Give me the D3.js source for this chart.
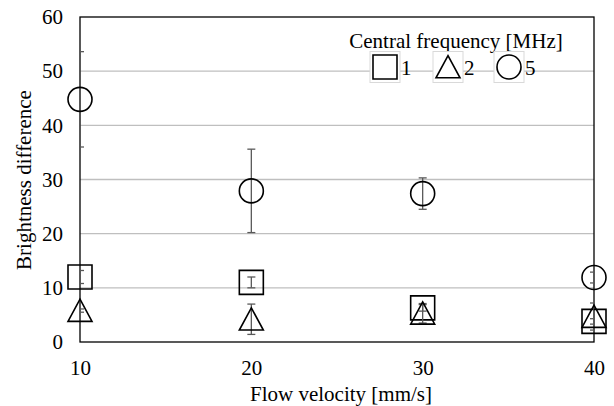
<!DOCTYPE html>
<html><head><meta charset="utf-8">
<script src="https://cdn.jsdelivr.net/npm/d3@7"></script>
<style>body{margin:0;background:#fff}svg{display:block}text{font-family:"Liberation Serif","Times New Roman",serif;fill:#000}</style>
</head><body>
<script>
const velocities = [10, 20, 30, 40];
const xTicks = [10, 20, 30, 40];
const yTicks = [0, 10, 20, 30, 40, 50, 60];
const freq1Values = [12.0, 11.0, 6.3, 3.8];
const freq1Errors = [1.2, 1.0, 0.6, 0.5];
const freq2Values = [5.8, 4.2, 5.3, 4.7];
const freq2Errors = [0.3, 2.8, 1.8, 2.5];
const freq5Values = [44.8, 27.9, 27.4, 11.9];
const freq5Errors = [8.8, 7.7, 2.9, 1.0];
const seriesNames = ["1", "2", "5"];
const seriesShapes = ["square", "triangle", "circle"];

const W = 614, H = 406;
const m = {l: 80, r: 20, t: 17, b: 64};
const svg = d3.select("body").append("svg").attr("width", W).attr("height", H);
const x = d3.scaleLinear().domain([10, 40]).range([m.l, W - m.r]);
const y = d3.scaleLinear().domain([0, 60]).range([H - m.b, m.t]);

svg.append("defs").append("clipPath").attr("id", "plotclip").append("rect")
  .attr("x", m.l).attr("y", m.t).attr("width", W - m.r - m.l).attr("height", H - m.b - m.t);

// gridlines
svg.append("g").selectAll("line").data(yTicks.filter(t => t > 0 && t < 60)).join("line")
  .attr("x1", m.l).attr("x2", W - m.r).attr("y1", d => y(d)).attr("y2", d => y(d))
  .attr("stroke", "#bfbfbf").attr("stroke-width", 1.3);

// border
svg.append("rect").attr("x", m.l).attr("y", m.t).attr("width", W - m.r - m.l).attr("height", H - m.b - m.t)
  .attr("fill", "none").attr("stroke", "#000").attr("stroke-width", 1.3);

// axes (text only)
const yAxis = d3.axisLeft(y).tickValues(yTicks).tickSize(0).tickPadding(17).tickFormat(d3.format("d"));
const gy = svg.append("g").attr("transform", `translate(${m.l},0)`).call(yAxis);
gy.select(".domain").remove();
gy.selectAll("text").attr("font-size", 21).attr("font-family", "Liberation Serif");
const xAxis = d3.axisBottom(x).tickValues(xTicks).tickSize(0).tickPadding(18).tickFormat(d3.format("d"));
const gx = svg.append("g").attr("transform", `translate(0,${H - m.b})`).call(xAxis);
gx.select(".domain").remove();
gx.selectAll("text").attr("font-size", 21).attr("font-family", "Liberation Serif");

// axis titles
svg.append("text").attr("x", 341).attr("y", 401).attr("text-anchor", "middle").attr("font-size", 21).text("Flow velocity [mm/s]");
svg.append("text").attr("transform", "translate(31,180) rotate(-90)").attr("text-anchor", "middle").attr("font-size", 21).text("Brightness difference");

function shapePath(shape, s) {
  const h = s / 2;
  if (shape === "square") return `M${-h},${-h}H${h}V${h}H${-h}Z`;
  if (shape === "triangle") return `M0,${-h * 0.95}L${h},${h * 0.9}L${-h},${h * 0.9}Z`;
  return d3.arc()({innerRadius: 0, outerRadius: h, startAngle: 0, endAngle: 2 * Math.PI});
}

const seriesData = [
  {vals: freq1Values, errs: freq1Errors},
  {vals: freq2Values, errs: freq2Errors},
  {vals: freq5Values, errs: freq5Errors}
];

seriesData.forEach((sd, si) => {
  const pts = velocities.map((v, i) => ({x: v, y: sd.vals[i], e: sd.errs[i]}));
  const g = svg.append("g");
  // error bars (clipped to plot area)
  const eb = g.append("g").attr("clip-path", "url(#plotclip)")
    .selectAll("g.eb").data(pts).join("g").attr("stroke", "#595959").attr("stroke-width", 1.3);
  eb.append("line").attr("x1", d => x(d.x)).attr("x2", d => x(d.x)).attr("y1", d => y(d.y - d.e)).attr("y2", d => y(d.y + d.e));
  eb.append("line").attr("x1", d => x(d.x) - 4).attr("x2", d => x(d.x) + 4).attr("y1", d => y(d.y - d.e)).attr("y2", d => y(d.y - d.e));
  eb.append("line").attr("x1", d => x(d.x) - 4).attr("x2", d => x(d.x) + 4).attr("y1", d => y(d.y + d.e)).attr("y2", d => y(d.y + d.e));
  // markers
  g.selectAll("path.mk").data(pts).join("path")
    .attr("transform", d => `translate(${x(d.x)},${y(d.y)})`)
    .attr("d", shapePath(seriesShapes[si], 24))
    .attr("fill", "none").attr("stroke", "#000").attr("stroke-width", 1.6);
});

// legend
svg.append("text").attr("x", 456).attr("y", 48).attr("text-anchor", "middle").attr("font-size", 21).text("Central frequency [MHz]");
const legendX = [385, 448, 509];
seriesNames.forEach((n, i) => {
  const cx = legendX[i], cy = 67;
  svg.append("rect").attr("x", cx - 15).attr("y", cy - 15.5).attr("width", 30).attr("height", 31)
    .attr("fill", "#fff").attr("stroke", "#d9d9d9").attr("stroke-width", 1);
  svg.append("path").attr("transform", `translate(${cx},${cy})`).attr("d", shapePath(seriesShapes[i], 24))
    .attr("fill", "none").attr("stroke", "#000").attr("stroke-width", 1.6);
  svg.append("text").attr("x", cx + 16).attr("y", cy + 8).attr("font-size", 21).text(n);
});
</script>
</body></html>
